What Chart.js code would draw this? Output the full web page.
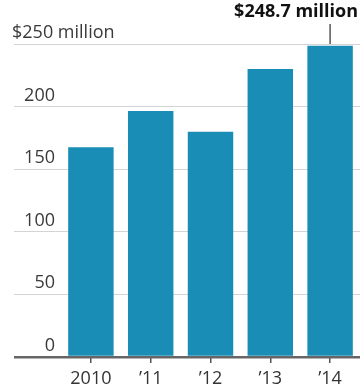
<!DOCTYPE html>
<html>
<head>
<meta charset="utf-8">
<script src="https://cdn.jsdelivr.net/npm/chart.js@4/dist/chart.umd.min.js"></script>
<style>
    html, body { margin: 0; padding: 0; background: #fff; }
    #wrap { width: 360px; height: 390px; }
</style>
</head>
<body>
<div id="wrap"><canvas id="chart-revenue"></canvas></div>
<script>
const years = ['2010', '\u201911', '\u201912', '\u201913', '\u201914'];
const revenue = [167.5, 196.5, 180, 230, 248.7];
const yTicks = [0, 50, 100, 150, 200, 250];
const calloutText = '$248.7 million';

const fontFamily = '"Open Sans", "Noto Sans", sans-serif';

// y labels sit above their gridlines, callout over the last bar
const overlay = {
    id: 'overlay',
    afterDraw(chart) {
        const ctx = chart.ctx;
        const y = chart.scales.y;
        ctx.save();
        ctx.fillStyle = '#3a3a3a';
        ctx.font = '18px ' + fontFamily;
        ctx.textBaseline = 'alphabetic';
        yTicks.forEach(v => {
            const py = y.getPixelForValue(v);
            if (v === yTicks[yTicks.length - 1]) {
                ctx.textAlign = 'left';
                ctx.fillText('$' + v + ' million', 12, py - 6);
            } else {
                ctx.textAlign = 'right';
                ctx.fillText(String(v), 55, py - 6);
            }
        });

        const last = chart.getDatasetMeta(0).data[revenue.length - 1];
        ctx.strokeStyle = '#555';
        ctx.lineWidth = 1.5;
        ctx.beginPath();
        ctx.moveTo(last.x, 24);
        ctx.lineTo(last.x, y.getPixelForValue(250));
        ctx.stroke();

        ctx.font = 'bold 18px ' + fontFamily;
        ctx.fillStyle = '#111';
        ctx.textAlign = 'right';
        ctx.textBaseline = 'middle';
        ctx.fillText(calloutText, 358, 12);
        ctx.restore();
    }
};

new Chart(document.getElementById('chart-revenue'), {
    type: 'bar',
    data: {
        labels: years,
        datasets: [{
            data: revenue,
            backgroundColor: '#1a8db6',
            borderWidth: 0,
            barPercentage: 0.76,
            categoryPercentage: 1
        }]
    },
    options: {
        responsive: true,
        maintainAspectRatio: false,
        animation: false,
        layout: { padding: { top: 44, left: 14, right: -3, bottom: -5 } },
        plugins: { legend: { display: false }, tooltip: { enabled: false } },
        scales: {
            x: {
                border: { display: false },
                grid: {
                    offset: false,
                    drawOnChartArea: false,
                    tickLength: 6,
                    color: '#555',
                    lineWidth: 1.5
                },
                ticks: {
                    padding: 7,
                    color: '#333',
                    font: { family: fontFamily, size: 18, lineHeight: 1 }
                }
            },
            y: {
                min: 0,
                max: 250,
                border: { display: false },
                grid: {
                    tickLength: 47,
                    color: ctx => ctx.tick && ctx.tick.value === 0 ? '#666' : '#d4d4d4',
                    lineWidth: ctx => ctx.tick && ctx.tick.value === 0 ? 2.5 : 1
                },
                ticks: { display: false, stepSize: 50 }
            }
        }
    },
    plugins: [overlay]
});
</script>
</body>
</html>
